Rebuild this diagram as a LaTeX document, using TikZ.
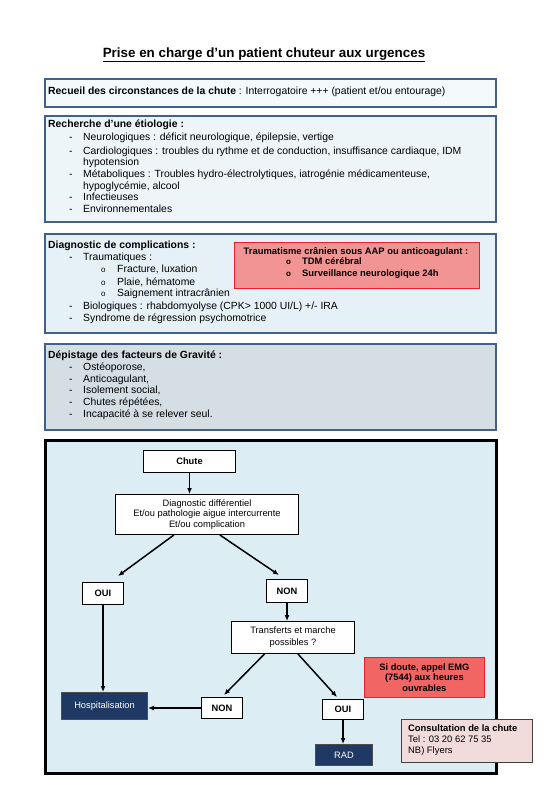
\documentclass[tikz,border=0pt]{standalone}
\usepackage{fontspec}
\setmainfont{Liberation Sans}
\usetikzlibrary{arrows.meta,calc}
\definecolor{secborder}{HTML}{41608A}
\definecolor{fillA}{HTML}{F4F9FB}
\definecolor{fillB}{HTML}{EEF5F9}
\definecolor{fillC}{HTML}{E6F1F7}
\definecolor{fillD}{HTML}{D5DFE3}
\definecolor{flowfill}{HTML}{DCEEF4}
\definecolor{redA}{HTML}{F29494}
\definecolor{redB}{HTML}{F26565}
\definecolor{redline}{HTML}{E8202A}
\definecolor{pinkC}{HTML}{F2DCDB}
\definecolor{navy}{HTML}{1F3864}
\begin{document}
\begin{tikzpicture}[x=1pt,y=-1pt,
  secbox/.style={draw=secborder,line width=2pt,anchor=north west,inner sep=0pt},
  body/.style={anchor=west,inner sep=0pt,text height=7.5pt,text depth=2.2pt,font=\fontsize{10.4}{12}\selectfont},
  bodyb/.style={body,font=\fontsize{10.4}{12}\selectfont\bfseries},
  flowbox/.style={draw=black,line width=1pt,fill=white,inner sep=0pt,anchor=north west,align=center,font=\fontsize{9.3}{10.6}\selectfont},
  navybox/.style={draw=black!70,line width=1pt,fill=navy,text=white,inner sep=0pt,anchor=north west,align=center,font=\fontsize{9.3}{10.6}\selectfont},
  conn/.style={line width=1.5pt,-{Latex[length=6pt,width=5pt]}},
  ftxt/.style={inner sep=0pt,text height=7pt,text depth=2pt,font=\fontsize{9.3}{10.6}\selectfont}
]
\useasboundingbox (0,0) rectangle (558,809);
\fill[white] (0,0) rectangle (558,809);
% title
\node[inner sep=0pt,font=\fontsize{13.4}{15}\selectfont\bfseries] (title) at (264,55) {\underline{Prise en charge d’un patient chuteur aux urgences}};
% box 1
\node[secbox,fill=fillA,minimum width=451pt,minimum height=28pt] (b1) at (44,78) {};
\node[body] (b1t) at (48,92) {\textbf{Recueil des circonstances de la chute} : Interrogatoire +++ (patient et/ou entourage)};
% box 2
\node[secbox,fill=fillB,minimum width=451pt,minimum height=106pt] (b2) at (44,115) {};
\node[bodyb] (b2h) at (48,125) {Recherche d’une étiologie :};
\foreach \y in {138,152,175,198,210}{\node[body] at (69,\y) {-};}
\node[body] (b2a) at (83,138) {Neurologiques : déficit neurologique, épilepsie, vertige};
\node[body] (b2b) at (83,152) {Cardiologiques : troubles du rythme et de conduction, insuffisance cardiaque, IDM};
\node[body] (b2c) at (83,163) {hypotension};
\node[body] (b2d) at (83,175) {Métaboliques : Troubles hydro-électrolytiques, iatrogénie médicamenteuse,};
\node[body] (b2e) at (83,187) {hypoglycémie, alcool};
\node[body] (b2f) at (83,198) {Infectieuses};
\node[body] (b2g) at (83,210) {Environnementales};
% box 3
\node[secbox,fill=fillC,minimum width=451pt,minimum height=99pt] (b3) at (44,233) {};
\node[bodyb] (b3h) at (48,246) {Diagnostic de complications :};
\foreach \y in {258,307,319}{\node[body] at (69,\y) {-};}
\foreach \y in {270,283,294}{\node[body,font=\fontsize{8}{10}\selectfont] at (101,\y) {o};}
\node[body] (b3a) at (83,258) {Traumatiques :};
\node[body] (b3b) at (117,270) {Fracture, luxation};
\node[body] (b3c) at (117,283) {Plaie, hématome};
\node[body] (b3d) at (117,294) {Saignement intracrânien};
\node[body] (b3e) at (83,307) {Biologiques : rhabdomyolyse (CPK> 1000 UI/L) +/- IRA};
\node[body] (b3f) at (83,319) {Syndrome de régression psychomotrice};
% red box
\node[draw=redline,line width=0.8pt,fill=redA,anchor=north west,minimum width=245pt,minimum height=46pt,inner sep=0pt] (red1) at (234,242) {};
\node[inner sep=0pt,font=\fontsize{9.4}{11}\selectfont\bfseries] (red1h) at (356,252) {Traumatisme crânien sous AAP ou anticoagulant :};
\node[body,font=\fontsize{8}{10}\selectfont\bfseries] at (286,262) {o};
\node[body,font=\fontsize{8}{10}\selectfont\bfseries] at (286,274) {o};
\node[body,font=\fontsize{9.4}{11}\selectfont\bfseries] (red1a) at (302,262) {TDM cérébral};
\node[body,font=\fontsize{9.4}{11}\selectfont\bfseries] (red1b) at (302,274) {Surveillance neurologique 24h};
% box 4
\node[secbox,fill=fillD,minimum width=451pt,minimum height=86pt] (b4) at (44,343) {};
\node[bodyb] (b4h) at (48,356) {Dépistage des facteurs de Gravité :};
\foreach \y in {368,380,391,403,415}{\node[body] at (69,\y) {-};}
\node[body] (b4a) at (83,368) {Ostéoporose,};
\node[body] (b4b) at (83,380) {Anticoagulant,};
\node[body] (b4c) at (83,391) {Isolement social,};
\node[body] (b4d) at (83,403) {Chutes répétées,};
\node[body] (b4e) at (83,415) {Incapacité à se relever seul.};
% flowchart frame
\node[draw=black,line width=3pt,fill=flowfill,anchor=north west,minimum width=451pt,minimum height=333pt,inner sep=0pt] (frame) at (44,439) {};
% flow nodes
\node[flowbox,minimum width=92pt,minimum height=22pt,font=\fontsize{9.3}{10.6}\selectfont\bfseries] (chute) at (143,450) {Chute};
\node[flowbox,minimum width=183pt,minimum height=40pt] (diag) at (115,494) {Diagnostic différentiel\\Et/ou pathologie aigue intercurrente\\Et/ou complication};
\node[flowbox,minimum width=41pt,minimum height=22pt,font=\fontsize{9.3}{10.6}\selectfont\bfseries] (oui1) at (82,582) {OUI};
\node[flowbox,minimum width=41pt,minimum height=23pt,font=\fontsize{9.3}{10.6}\selectfont\bfseries] (non1) at (266,579) {NON};
\node[flowbox,minimum width=123pt,minimum height=32pt,font=\fontsize{9.3}{12}\selectfont] (trans) at (231,621) {Transferts et marche\\possibles ?};
\node[draw=redline,line width=0.8pt,fill=redB,anchor=north west,minimum width=120pt,minimum height=40pt,inner sep=0pt,align=center,font=\fontsize{9.3}{10.6}\selectfont\bfseries] (red2) at (364,657) {Si doute, appel EMG\\(7544) aux heures\\ouvrables};
\node[navybox,minimum width=86pt,minimum height=27pt] (hosp) at (61,692) {Hospitalisation};
\node[flowbox,minimum width=41pt,minimum height=21pt,font=\fontsize{9.3}{10.6}\selectfont\bfseries] (non2) at (201,697) {NON};
\node[flowbox,minimum width=41pt,minimum height=20pt,font=\fontsize{9.3}{10.6}\selectfont\bfseries] (oui2) at (322,699) {OUI};
\node[navybox,minimum width=57pt,minimum height=21pt] (rad) at (315,744) {RAD};
\node[draw=black!75,line width=1pt,fill=pinkC,anchor=north west,minimum width=131pt,minimum height=43pt,inner sep=0pt] (consult) at (401,719) {};
\node[ftxt,anchor=west,font=\fontsize{9.4}{11}\selectfont\bfseries] (c1) at (408,729) {Consultation de la chute};
\node[ftxt,anchor=west,font=\fontsize{9.4}{11}\selectfont] (c2) at (408,740) {Tel : 03 20 62 75 35};
\node[ftxt,anchor=west,font=\fontsize{9.4}{11}\selectfont] (c3) at (408,751) {NB) Flyers};
% connectors
\draw[conn] (chute.south) -- (chute.south |- diag.north);
\coordinate (d1) at ($(diag.south west)!0.32!(diag.south east)$);
\coordinate (d2) at ($(diag.south west)!0.57!(diag.south east)$);
\draw[conn] (d1) -- ($(oui1.north)+(15,-6)$);
\draw[conn] (d2) -- ($(non1.north)+(-8,-4)$);
\draw[conn] (non1.south) -- (non1.south |- trans.north);
\draw[conn] (oui1.south) -- (oui1.south |- hosp.north);
\coordinate (t1) at ($(trans.south west)!0.27!(trans.south east)$);
\coordinate (t2) at ($(trans.south west)!0.54!(trans.south east)$);
\draw[conn] (t1) -- ($(non2.north)+(2,-2)$);
\draw[conn] (t2) -- ($(oui2.north)+(-6,-2)$);
\draw[conn] (non2.west) -- (non2.west -| hosp.east);
\draw[conn] (oui2.south) -- (oui2.south |- rad.north);
\end{tikzpicture}
\end{document}
